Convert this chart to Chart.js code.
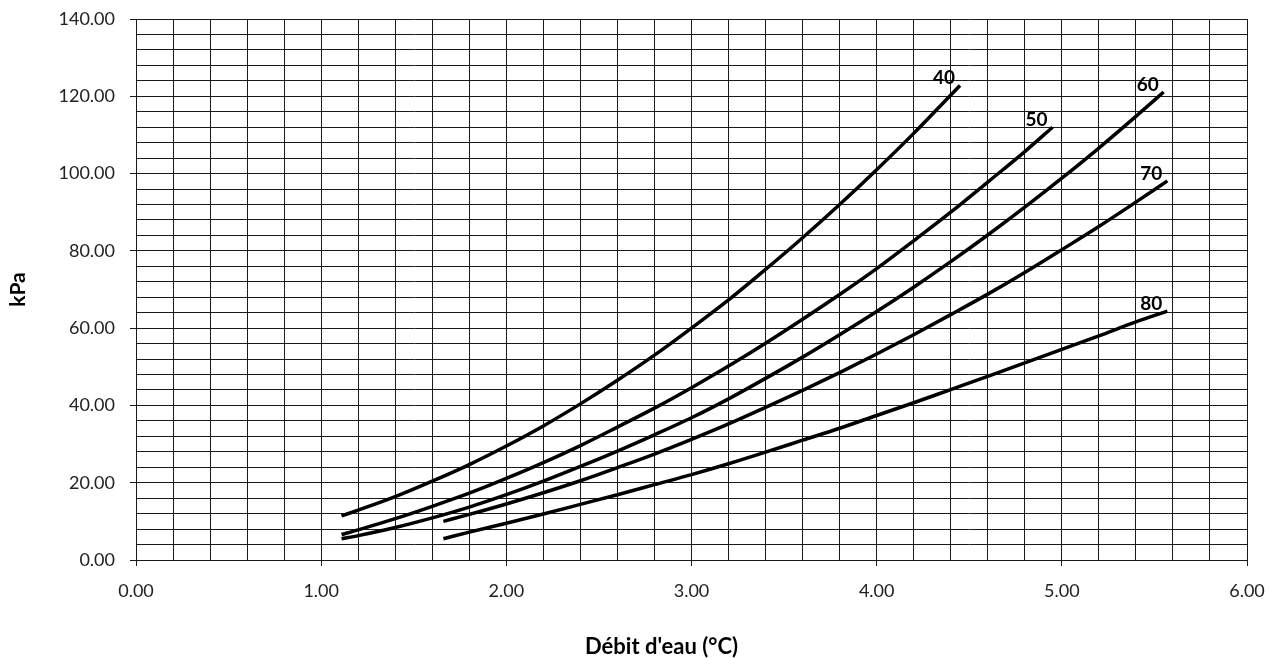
<!DOCTYPE html>
<html>
<head>
<meta charset="utf-8">
<script src="https://cdn.jsdelivr.net/npm/chart.js@4.4.0/dist/chart.umd.min.js"></script>
<style>
  html, body { margin: 0; padding: 0; background: #fff; }
  #wrap { width: 1270px; height: 658px; }
</style>
</head>
<body>
<div id="wrap"><canvas id="chart"></canvas></div>
<script>
// curve labels (temperature)
const curveNames = ['40', '50', '60', '70', '80'];

// water flow (x) and pressure drop in kPa (y)
const flow40 = [1.11, 1.2, 1.4, 1.6, 1.8, 2.0, 2.2, 2.4, 2.6, 2.8, 3.0, 3.2, 3.4, 3.6, 3.8, 4.0, 4.2, 4.45];
const kpa40  = [11.4, 12.9, 16.4, 20.4, 24.7, 29.5, 34.7, 40.4, 46.5, 53.0, 60.0, 67.3, 75.2, 83.4, 92.0, 101.0, 110.4, 122.8];

const flow50 = [1.11, 1.2, 1.4, 1.6, 1.8, 2.0, 2.2, 2.4, 2.6, 2.8, 3.0, 3.2, 3.4, 3.6, 3.8, 4.0, 4.2, 4.4, 4.6, 4.8, 4.95];
const kpa50  = [6.6, 7.8, 10.7, 13.9, 17.3, 21.1, 25.2, 29.6, 34.4, 39.3, 44.6, 50.2, 56.1, 62.3, 68.7, 75.4, 82.6, 90.0, 97.8, 105.7, 112.0];

const flow60 = [1.11, 1.2, 1.4, 1.6, 1.8, 2.0, 2.2, 2.4, 2.6, 2.8, 3.0, 3.2, 3.4, 3.6, 3.8, 4.0, 4.2, 4.4, 4.6, 4.8, 5.0, 5.2, 5.4, 5.55];
const kpa60  = [5.5, 6.3, 8.4, 10.9, 13.7, 16.9, 20.4, 24.2, 28.2, 32.4, 36.8, 41.7, 47.0, 52.5, 58.3, 64.3, 70.6, 77.2, 84.1, 91.3, 98.8, 106.6, 114.8, 121.1];

const flow70 = [1.66, 1.8, 2.0, 2.2, 2.4, 2.6, 2.8, 3.0, 3.2, 3.4, 3.6, 3.8, 4.0, 4.2, 4.4, 4.6, 4.8, 5.0, 5.2, 5.4, 5.57];
const kpa70  = [10.0, 11.8, 14.5, 17.4, 20.5, 23.9, 27.4, 31.2, 35.2, 39.5, 43.9, 48.5, 53.3, 58.3, 63.5, 68.8, 74.4, 80.3, 86.3, 92.6, 98.1];

const flow80 = [1.66, 1.8, 2.0, 2.2, 2.4, 2.6, 2.8, 3.0, 3.2, 3.4, 3.6, 3.8, 4.0, 4.2, 4.4, 4.6, 4.8, 5.0, 5.2, 5.4, 5.57];
const kpa80  = [5.5, 7.2, 9.5, 11.9, 14.4, 16.9, 19.5, 22.1, 24.9, 27.9, 31.0, 34.1, 37.4, 40.7, 44.1, 47.5, 51.0, 54.5, 58.0, 61.6, 64.4];

const flows = [flow40, flow50, flow60, flow70, flow80];
const kpas = [kpa40, kpa50, kpa60, kpa70, kpa80];

const xTitle = "Débit d'eau (°C)";
const yTitle = 'kPa';

const gridColor = '#1a1a1a';
const isWhole = (v) => Math.abs(v - Math.round(v)) < 1e-6;
const isLabeledY = (v) => Math.abs(v % 20) < 1e-6;

// draws the temperature label at the end of each curve + the x title
const curveLabelPlugin = {
  id: 'curveLabels',
  afterDatasetsDraw(chart) {
    const ctx = chart.ctx;
    ctx.save();
    ctx.fillStyle = '#000';
    ctx.font = 'bold 19px Lato';
    ctx.textAlign = 'right';
    ctx.textBaseline = 'alphabetic';
    chart.data.datasets.forEach((ds, i) => {
      const pts = chart.getDatasetMeta(i).data;
      const last = pts[pts.length - 1];
      ctx.fillText(ds.label, last.x - 5, last.y - 1);
    });

    const area = chart.chartArea;
    ctx.font = 'bold 22px Lato';
    ctx.textAlign = 'center';
    ctx.textBaseline = 'middle';
    ctx.fillText(xTitle, (area.left + area.right) / 2 - 30, chart.height - 11);
    ctx.restore();
  }
};

const datasets = curveNames.map((name, i) => ({
  label: name,
  data: flows[i].map((x, j) => ({ x: x, y: kpas[i][j] })),
  showLine: true,
  borderColor: '#000',
  borderWidth: 3.5,
  pointRadius: 0,
  cubicInterpolationMode: 'monotone',
  fill: false,
}));

new Chart(document.getElementById('chart').getContext('2d'), {
  type: 'scatter',
  data: { datasets: datasets },
  options: {
    responsive: true,
    maintainAspectRatio: false,
    animation: false,
    layout: { padding: { top: 19, right: 23, left: 0, bottom: 0 } },
    plugins: {
      legend: { display: false },
      tooltip: { enabled: false },
    },
    scales: {
      x: {
        type: 'linear',
        min: 0,
        max: 6,
        ticks: {
          stepSize: 0.2,
          autoSkip: false,
          maxRotation: 0,
          padding: 14,
          color: '#222',
          font: { family: 'Lato', size: 18 },
          callback: (value) => (isWhole(value) ? value.toFixed(2) : ''),
        },
        grid: {
          color: gridColor,
          lineWidth: 1,
          tickLength: 6,
          tickColor: (ctx) => (ctx.tick && isWhole(ctx.tick.value) ? gridColor : 'rgba(0,0,0,0)'),
        },
        border: { color: gridColor },
        afterFit: (scale) => {
          scale.height = 98;
          scale.paddingLeft = 0;
          scale.paddingRight = 0;
        },
      },
      y: {
        type: 'linear',
        min: 0,
        max: 140,
        ticks: {
          stepSize: 4,
          autoSkip: false,
          padding: 15,
          color: '#222',
          font: { family: 'Lato', size: 18 },
          callback: (value) => (isLabeledY(value) ? value.toFixed(2) : ''),
        },
        grid: {
          color: gridColor,
          lineWidth: 1,
          tickLength: 6,
          tickColor: (ctx) => (ctx.tick && isLabeledY(ctx.tick.value) ? gridColor : 'rgba(0,0,0,0)'),
        },
        border: { color: gridColor },
        title: {
          display: true,
          text: yTitle,
          color: '#000',
          font: { family: 'Lato', size: 21, weight: 'bold' },
          padding: { top: 6, bottom: 0 },
        },
        afterFit: (scale) => {
          scale.width = 136;
          scale.paddingTop = 0;
          scale.paddingBottom = 0;
        },
      },
    },
  },
  plugins: [curveLabelPlugin],
});
</script>
</body>
</html>
